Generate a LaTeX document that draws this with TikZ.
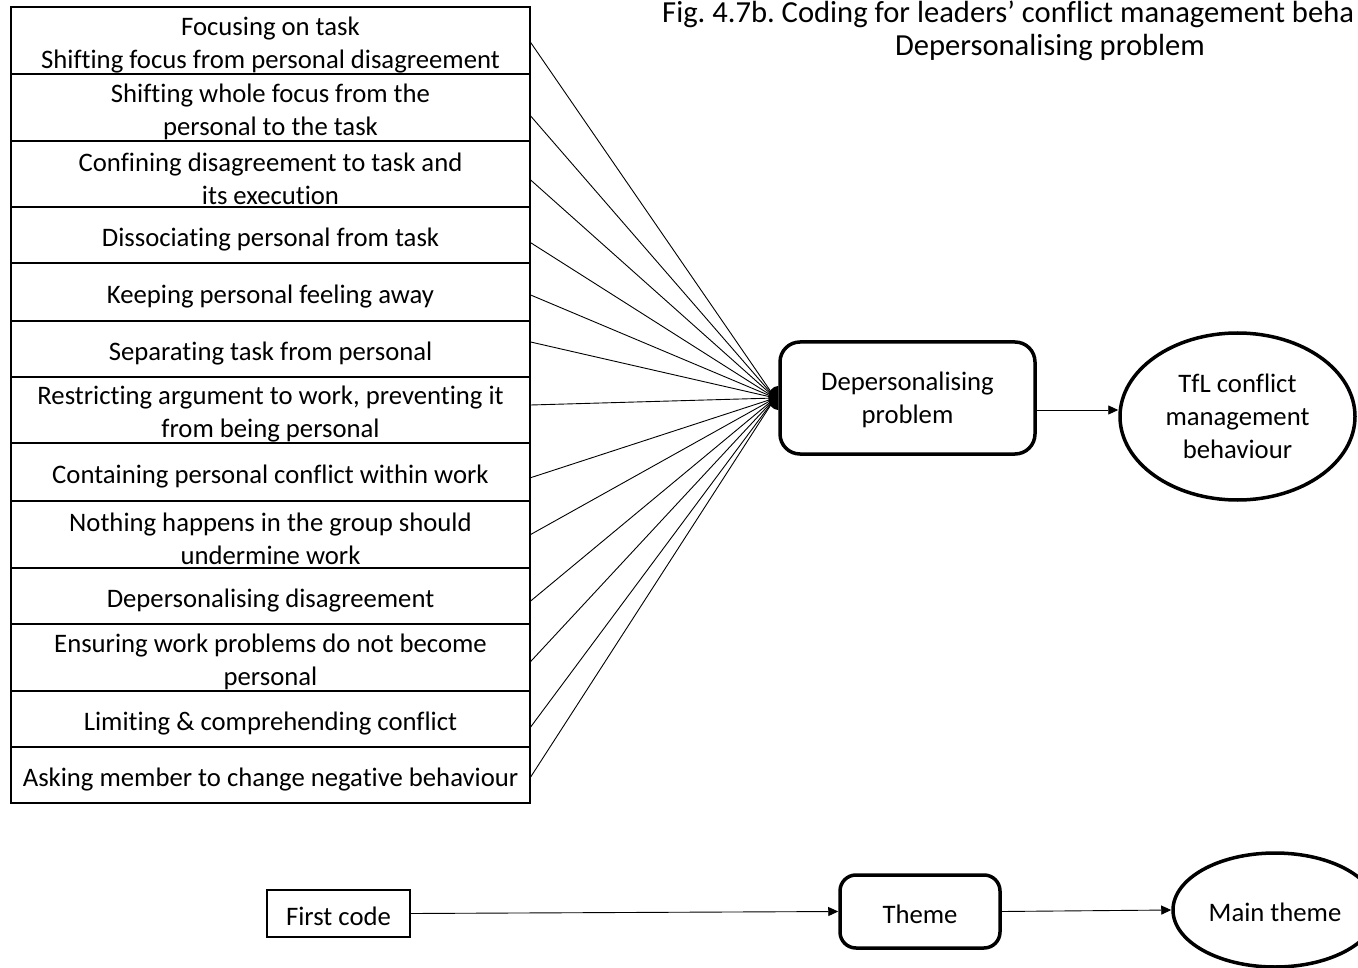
\documentclass[tikz,border=0pt]{standalone}
\usepackage{fontspec}
\setmainfont{Carlito}[Ligatures={NoCommon}]
\usetikzlibrary{arrows.meta,shapes.geometric}
\frenchspacing

\begin{document}
\begin{tikzpicture}[x=1pt,y=-1pt,
  txt/.style={font=\fontsize{26.7}{33}\selectfont},
  code/.style={draw, line width=1.3pt, rectangle, minimum width=519pt, inner sep=0pt},
  codetext/.style={txt, inner sep=0pt, align=center},
  firstcode/.style={txt, draw, line width=1.8pt, rectangle, inner sep=0pt,
    text height=23pt, text depth=0pt},
  themebox/.style={txt, draw, line width=3.5pt, rounded corners=20pt,
    fill=white, inner sep=0pt, align=center},
  mainbox/.style={txt, draw, ellipse, line width=3.5pt, inner sep=0pt,
    align=center},
  link/.style={line width=0.9pt},
  flow/.style={line width=0.9pt, -{Triangle[length=10pt,width=9pt]}},
]
\useasboundingbox (0,0) rectangle (1358,968);

% title
\node[anchor=base west, inner sep=0pt, font=\fontsize{30.6}{33}\selectfont]
  (title1) at (662,23) {Fig. 4.7b. Coding for leaders’ conflict management beha};
\node[anchor=base, inner sep=0pt, font=\fontsize{30.6}{33}\selectfont]
  (title2) at (1050,56) {Depersonalising problem};

% first codes: a column of boxes, each with its text
\foreach \n/\y/\h/\t in {
  1/40.5/67/{Focusing on task\\Shifting focus from personal disagreement},
  2/107.5/67/{Shifting whole focus from the\\personal to the task},
  3/174/66/{Confining disagreement to task and\\its execution},
  4/235/56/{Dissociating personal from task},
  5/292/58/{Keeping personal feeling away},
  6/349/56/{Separating task from personal},
  7/410/66/{Restricting argument to work, preventing it\\from being personal},
  8/472/58/{Containing personal conflict within work},
  9/534.5/67/{Nothing happens in the group should\\undermine work},
  10/596/56/{Depersonalising disagreement},
  11/657.5/67/{Ensuring work problems do not become\\personal},
  12/719/56/{Limiting \& comprehending conflict},
  13/775/56/{Asking member to change negative behaviour}}{
  \node[code, minimum height=\h pt] (b\n) at (270.5,\y) {};
  \node[codetext] (t\n) at ([yshift=-4.5pt]b\n.center) {\t};
}

% theme and main theme
\node[themebox, minimum width=255pt, minimum height=112pt] (dp) at (907.5,398) {};
\node[codetext] (dptext) at ([yshift=-2pt]dp.center) {Depersonalising\\problem};
\node[mainbox, minimum width=235pt, minimum height=167pt] (tfl) at (1237.5,416.5)
  {TfL conflict\\management\\behaviour};
\coordinate (hub) at ([xshift=-3pt]dp.west);

% links from the codes to the theme
\foreach \n/\d in {1/-2,2/-8.5,3/-6,4/-7.7,5/-3,6/7,7/5,8/-5.7,9/0,10/-5,11/-4,12/-8,13/-2}
  \draw[link] ([yshift=\d pt]b\n.east) -- (hub);
\fill (dp.west) ++(0,-12) arc[start angle=270, end angle=90, x radius=10, y radius=12] -- cycle;

\draw[flow] ([yshift=-12pt]dp.east) -- ([yshift=-12pt]dp.east -| tfl.west);

% key
\node[firstcode, minimum width=143pt, minimum height=47pt] (fc) at (338.5,913.5) {First code};
\node[themebox, rounded corners=16pt, minimum width=160pt, minimum height=73pt,
  text height=23pt, text depth=0pt] (th) at (920,911.5) {Theme};
\node[mainbox, minimum width=204pt, minimum height=114pt,
  text height=23pt, text depth=0pt] (mt) at (1275,910) {Main theme};
\draw[flow] (fc.east) -- (th.west);
\draw[flow] (th.east) -- (mt.west);
\end{tikzpicture}
\end{document}
